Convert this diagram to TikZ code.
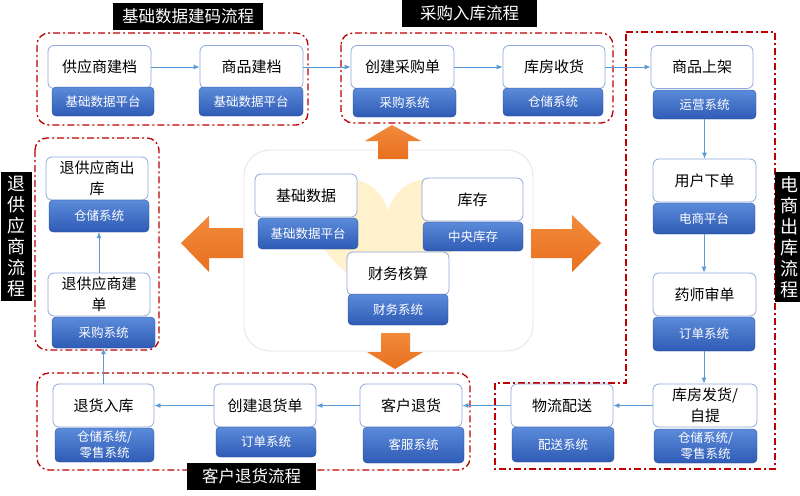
\documentclass[tikz,border=0pt]{standalone}
\usepackage{fontspec}
\newfontfamily\cjk{Noto Sans CJK SC}
\usetikzlibrary{arrows.meta}
\definecolor{boxline}{HTML}{8EA9DB}
\definecolor{blueT}{HTML}{5B8BDA}
\definecolor{blueB}{HTML}{2F5BB5}
\definecolor{grpred}{HTML}{C00000}
\definecolor{connblue}{HTML}{5B9BD5}
\definecolor{orT}{HTML}{F28A3C}
\definecolor{orB}{HTML}{E8701E}
\definecolor{heartc}{HTML}{FFF1CC}
\definecolor{panelline}{HTML}{E4E4E4}
\tikzset{
  wbox/.style={draw=boxline, line width=0.8pt, fill=white, rounded corners=6pt, inner sep=0pt,
    minimum width=103pt, minimum height=43pt, align=center, text=black,
    font=\cjk\fontsize{15}{21}\selectfont},
  bbox/.style={draw=blueB!80!black, line width=0.3pt, top color=blueT, bottom color=blueB, rounded corners=4pt, inner sep=0pt,
    minimum width=101pt, minimum height=30pt, align=center, text=white,
    font=\cjk\fontsize{12.5}{16}\selectfont},
  ttl/.style={fill=black, text=white, inner sep=0pt, align=center,
    font=\cjk\fontsize{16.5}{20}\selectfont},
  vttl/.style={fill=black, text=white, inner sep=0pt, align=center,
    font=\cjk\fontsize{18}{21}\selectfont},
  grp/.style={draw=grpred, line width=1.3pt, dash pattern=on 7pt off 3pt on 2pt off 3pt},
  conn/.style={draw=connblue, line width=0.8pt, -{Latex[length=6pt,width=5pt]}},
  bigarrow/.style={top color=orT, bottom color=orB, draw=none},
}
\begin{document}
\begin{tikzpicture}[x=1pt,y=-1pt]
\useasboundingbox (0,0) rectangle (800,495);
\fill[white] (0,0) rectangle (800,495);
% groups
\path[grp, rounded corners=12pt] (37,33) rectangle (308,125);
\path[grp, rounded corners=12pt] (341,33) rectangle (613,123);
\path[grp] (626,32) -- (775,32) -- (775,469) -- (495,469) -- (495,383) -- (626,383) -- cycle;
\path[grp, rounded corners=12pt] (35,138) rectangle (159,350);
\path[grp, rounded corners=12pt] (37,373) rectangle (470,470);
% center panel
\path[draw=panelline, line width=0.8pt, fill=white, rounded corners=26pt] (244,150) rectangle (533,351);
\fill[heartc] (388,212) .. controls (378,170) and (318,163) .. (318,225)
  .. controls (318,262) and (362,282) .. (388,302)
  .. controls (414,282) and (460,262) .. (460,225)
  .. controls (460,163) and (398,170) .. (388,212) -- cycle;
% orange arrows
\path[bigarrow] (392,125) -- (421,141) -- (408,141) -- (408,159) -- (378,159) -- (378,141) -- (365,141) -- cycle;
\path[bigarrow] (181,243) -- (209,216) -- (209,228) -- (243,228) -- (243,258) -- (209,258) -- (209,272) -- cycle;
\path[bigarrow] (601,243) -- (572,215) -- (572,229) -- (531,229) -- (531,258) -- (572,258) -- (572,272) -- cycle;
\path[bigarrow] (395,369) -- (423,352) -- (410,352) -- (410,333) -- (381,333) -- (381,352) -- (367,352) -- cycle;
% nodes
\node[wbox] (gys) at (99.5,67) {供应商建档};
\node[bbox, minimum width=102pt, minimum height=29pt] (gysb) at (103,101.5) {基础数据平台};
\node[wbox] (spjd) at (251.5,67) {商品建档};
\node[bbox, minimum width=104pt, minimum height=29pt] (spjdb) at (251,101.5) {基础数据平台};
\node[wbox] (cjcg) at (402.5,67) {创建采购单};
\node[bbox, minimum width=103pt, minimum height=29pt] (cjcgb) at (404.5,102.5) {采购系统};
\node[wbox, minimum width=102pt] (kfsh) at (554,67) {库房收货};
\node[bbox, minimum width=100pt, minimum height=28pt] (kfshb) at (553,102) {仓储系统};
\node[wbox, minimum width=102pt] (spsj) at (702,67) {商品上架};
\node[bbox, minimum width=103pt, minimum height=29pt] (spsjb) at (704.5,104.5) {运营系统};
\node[wbox] (yhxd) at (704.5,180.5) {用户下单};
\node[bbox, minimum width=102pt, minimum height=31pt] (yhxdb) at (704,218.5) {电商平台};
\node[wbox] (yssd) at (704.5,294.5) {药师审单};
\node[bbox, minimum width=102pt, minimum height=34pt] (yssdb) at (704,334) {订单系统};
\node[wbox, minimum width=104pt] (kffh) at (705,405.5) {库房发货/\\自提};
\node[bbox, minimum width=103pt, minimum height=34pt] (kffhb) at (705.5,446) {仓储系统/\\零售系统};
\node[wbox, minimum width=102pt] (wlps) at (562,405.5) {物流配送};
\node[bbox, minimum width=102pt, minimum height=35pt] (wlpsb) at (563,444.5) {配送系统};
\node[wbox, minimum width=102pt] (khth) at (411,405.5) {客户退货};
\node[bbox, minimum width=101pt, minimum height=36pt] (khthb) at (413.5,445) {客服系统};
\node[wbox, minimum width=102pt] (cjth) at (265,405.5) {创建退货单};
\node[bbox, minimum width=100pt, minimum height=30pt] (cjthb) at (266,442) {订单系统};
\node[wbox, minimum width=101pt] (thrk) at (103.5,405.5) {退货入库};
\node[bbox, minimum width=99pt, minimum height=34pt] (thrkb) at (104.5,445) {仓储系统/\\零售系统};
\node[wbox, minimum width=102pt] (tgjd) at (99,294.5) {退供应商建\\单};
\node[bbox, minimum width=103pt, minimum height=31pt] (tgjdb) at (103.5,332.5) {采购系统};
\node[wbox, minimum width=102pt] (tgck) at (97,178.5) {退供应商出\\库};
\node[bbox, minimum width=100pt, minimum height=32pt] (tgckb) at (99,216) {仓储系统};
\node[wbox, minimum width=102pt] (jcsj) at (306,195.5) {基础数据};
\node[bbox, minimum width=100pt, minimum height=31pt] (jcsjb) at (308,233.5) {基础数据平台};
\node[wbox, minimum width=101pt] (kc) at (472.5,199.5) {库存};
\node[bbox, minimum width=100pt, minimum height=29pt] (kcb) at (473,236.5) {中央库存};
\node[wbox, minimum width=102pt] (cwhs) at (398,273.5) {财务核算};
\node[bbox, minimum width=100pt, minimum height=31pt] (cwhsb) at (398,309.5) {财务系统};
% connectors
\draw[conn] (gys.east) -- (spjd.west);
\draw[conn] (spjd.east) -- (cjcg.west);
\draw[conn] (cjcg.east) -- (kfsh.west);
\draw[conn] (kfsh.east) -- (spsj.west);
\draw[conn] (spsjb.south) -- (spsjb.south |- yhxd.north);
\draw[conn] (yhxdb.south) -- (yhxdb.south |- yssd.north);
\draw[conn] (yssdb.south) -- (yssdb.south |- kffh.north);
\draw[conn] (kffh.west) -- (wlps.east);
\draw[conn] (wlps.west) -- (khth.east);
\draw[conn] (khth.west) -- (cjth.east);
\draw[conn] (cjth.west) -- (thrk.east);
\draw[conn] (thrk.north) -- (thrk.north |- tgjdb.south);
\draw[conn] (tgjd.north) -- (tgjd.north |- tgckb.south);
% titles
\node[ttl, minimum width=150pt, minimum height=27pt] (t1) at (188,16.5) {基础数据建码流程};
\node[ttl, minimum width=135pt, minimum height=27pt] (t2) at (469.5,13.5) {采购入库流程};
\node[ttl, minimum width=129pt, minimum height=27pt] (t3) at (251.5,476.5) {客户退货流程};
\node[vttl, minimum width=31pt, minimum height=129pt] (t4) at (16.5,236.5) {退\\供\\应\\商\\流\\程};
\node[vttl, minimum width=28pt, minimum height=130pt] (t5) at (789,237) {电\\商\\出\\库\\流\\程};
\end{tikzpicture}
\end{document}
